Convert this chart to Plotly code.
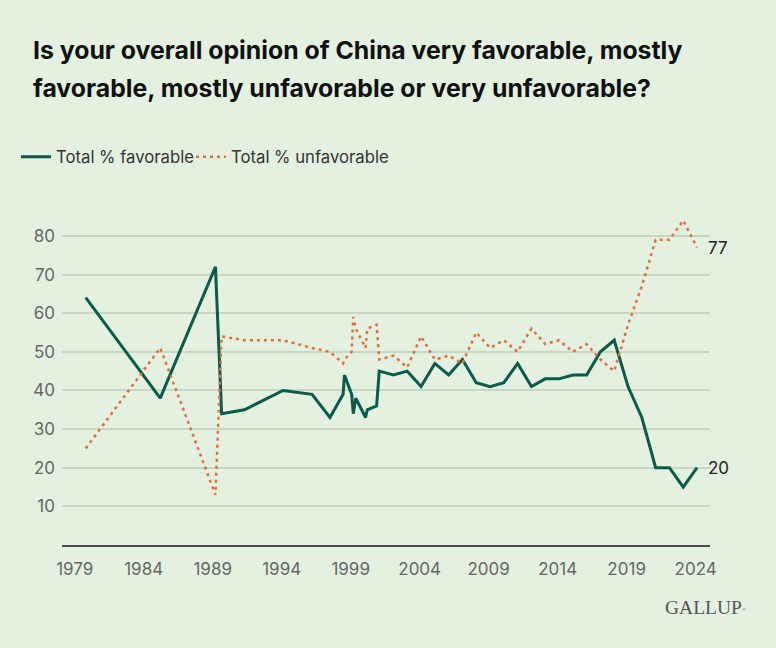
import plotly.graph_objects as go

# survey dates (decimal years) and results
years = [1979.8, 1985.2, 1989.2, 1989.65, 1991.3, 1994.1, 1996.2, 1997.5,
         1998.45, 1998.55, 1999.07, 1999.19, 1999.37, 2000.08, 2000.2, 2000.88,
         2001.07, 2002.1, 2003.1, 2004.1, 2005.1, 2006.1, 2007.1, 2008.1,
         2009.1, 2010.1, 2011.1, 2012.1, 2013.1, 2014.1, 2015.1, 2016.1,
         2017.1, 2018.1, 2019.1, 2020.1, 2021.1, 2022.1, 2023.1, 2024.1]

favorable = [64, 38, 72, 34, 35, 40, 39, 33,
             39, 44, 39, 34, 38, 33, 35, 36,
             45, 44, 45, 41, 47, 44, 48, 42,
             41, 42, 47, 41, 43, 43, 44, 44,
             50, 53, 41, 33, 20, 20, 15, 20]

unfavorable = [25, 51, 13, 54, 53, 53, 51, 50,
               47, 48, 50, 59, 56, 51, 56, 57,
               48, 49, 46, 54, 48, 49, 47, 55,
               51, 53, 50, 56, 52, 53, 50, 52,
               48, 45, 57, 67, 79, 79, 84, 77]

x_ticks = [1979, 1984, 1989, 1994, 1999, 2004, 2009, 2014, 2019, 2024]
y_ticks = [10, 20, 30, 40, 50, 60, 70, 80]

title_lines = [
    "Is your overall opinion of China very favorable, mostly",
    "favorable, mostly unfavorable or very unfavorable?",
]

bg = "#e4f1e1"
green = "#0b5a4a"
orange = "#e0703a"
font_main = "Inter"

fig = go.Figure()

fig.add_trace(go.Scatter(
    x=years, y=favorable, mode="lines", name="Total % favorable",
    line=dict(color=green, width=3), legend="legend",
))
fig.add_trace(go.Scatter(
    x=years, y=unfavorable, mode="lines", name="Total % unfavorable",
    line=dict(color=orange, width=2.5, dash="3px,4px"), legend="legend2",
))

# end labels
for vals in (unfavorable, favorable):
    fig.add_annotation(
        x=years[-1], y=vals[-1], text=str(vals[-1]), showarrow=False,
        xanchor="left", xshift=9, font=dict(family=font_main, size=17, color="#222222"),
    )

# title, two lines (plot top sits 205px down, plot is 340px tall)
for i, line in enumerate(title_lines):
    fig.add_annotation(
        xref="paper", yref="paper", x=-31 / 648, y=1 + (155 - 38.4 * i) / 340,
        text=line, showarrow=False, xanchor="left", yanchor="middle",
        font=dict(family=font_main, size=24.8, color="#111111", weight="bold"),
    )

# Gallup mark
fig.add_annotation(
    xref="paper", yref="paper", x=1 + 38 / 648, y=-62 / 340,
    text="GALLUP<span style='font-size:7px'><sup>®</sup></span>", showarrow=False,
    xanchor="right", yanchor="middle",
    font=dict(family="Liberation Serif", size=19.5, color="#555555"),
)

legend_style = dict(
    orientation="h", xref="container", yref="container",
    y=1 - 157 / 648, xanchor="left", yanchor="middle",
    bgcolor="rgba(0,0,0,0)",
    font=dict(family=font_main, size=16.7, color="#333333"),
    itemclick=False,
)

fig.update_layout(
    width=776, height=648,
    margin=dict(l=62, r=66, t=205, b=103),
    paper_bgcolor=bg, plot_bgcolor=bg,
    showlegend=True,
    legend=dict(x=16 / 776, **legend_style),
    legend2=dict(x=191 / 776, **legend_style),
    hovermode=False,
)

fig.update_xaxes(
    range=[1978.08, 2025.04], tickvals=x_ticks,
    showgrid=False, zeroline=False,
    showline=True, linecolor="#4d4d4d", linewidth=2,
    ticks="", ticklabelstandoff=8,
    tickfont=dict(family=font_main, size=17, color="#666666"),
)
fig.update_yaxes(
    range=[0, 88], tickvals=y_ticks,
    showgrid=True, gridcolor="#c8d6c5", gridwidth=1.5,
    zeroline=False, showline=False, ticks="", ticklabelstandoff=6,
    tickfont=dict(family=font_main, size=17, color="#666666"),
)

# page body has a default margin; drop it so the figure sits at the corner
fig.write_html("out.html", config={"displayModeBar": False},
               post_script="document.body.style.margin='0';")
